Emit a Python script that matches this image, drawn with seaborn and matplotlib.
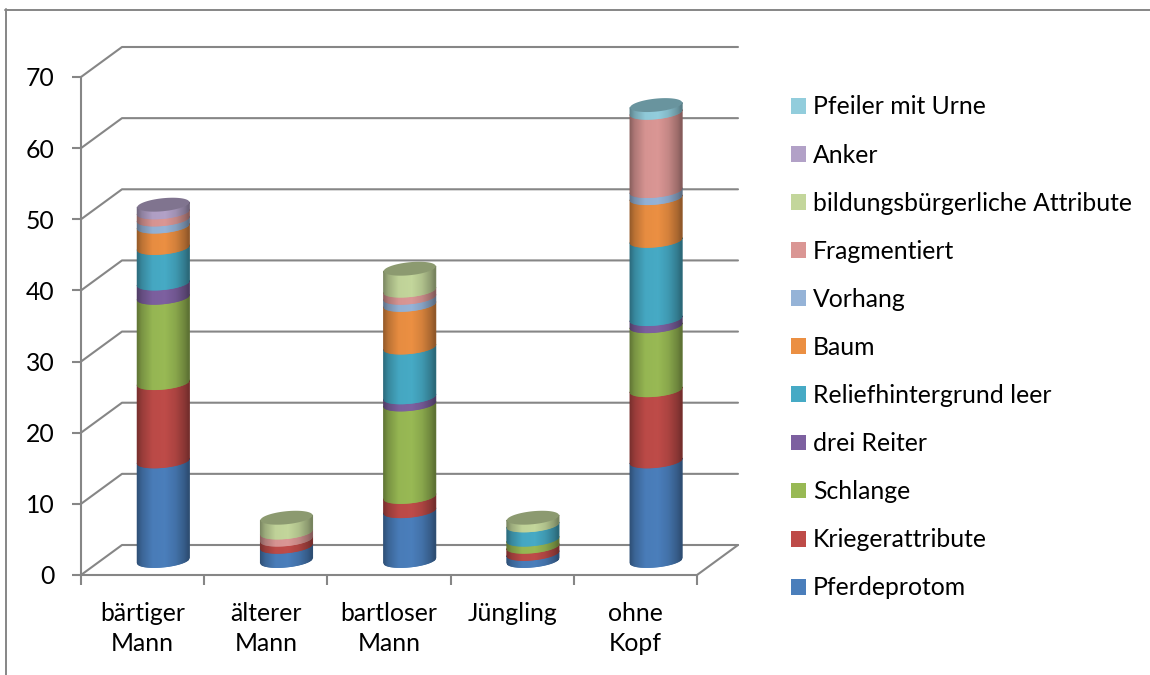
import numpy as np
import matplotlib
matplotlib.use("Agg")
import matplotlib.pyplot as plt
from matplotlib.collections import PolyCollection
from matplotlib.colors import to_rgb
from matplotlib.lines import Line2D
from matplotlib.patches import Patch, Polygon
import seaborn as sns

# Grave relief motifs per figure type
categories = ["bärtiger\nMann", "älterer\nMann", "bartloser\nMann", "Jüngling", "ohne\nKopf"]
pferdeprotom = [14, 2, 7, 1, 14]
kriegerattribute = [11, 1, 2, 1, 10]
schlange = [12, 0, 13, 1, 9]
drei_reiter = [2, 0, 1, 0, 1]
reliefhintergrund = [5, 0, 7, 2, 11]
baum = [3, 0, 6, 0, 6]
vorhang = [1, 0, 1, 0, 1]
fragmentiert = [1, 1, 1, 0, 11]
bildung = [0, 2, 3, 1, 0]
anker = [1, 0, 0, 0, 0]
pfeiler = [0, 0, 0, 0, 1]

series_names = ["Pferdeprotom", "Kriegerattribute", "Schlange", "drei Reiter",
                "Reliefhintergrund leer", "Baum", "Vorhang", "Fragmentiert",
                "bildungsbürgerliche Attribute", "Anker", "Pfeiler mit Urne"]
series_values = [pferdeprotom, kriegerattribute, schlange, drei_reiter,
                 reliefhintergrund, baum, vorhang, fragmentiert, bildung, anker, pfeiler]
series_colors = ["#4A7EBB", "#BE4B48", "#98B954", "#7D60A0", "#46AAC5", "#EB8F42",
                 "#95B3D7", "#DA9694", "#C3D69B", "#B2A1C7", "#92CDDC"]
y_ticks = [0, 10, 20, 30, 40, 50, 60, 70]

GRAY = "#868686"
FONT_SIZE = 17.8
W, H = 1150, 675

sns.set_theme(style="white")
plt.rcParams["font.family"] = ["Lato", "DejaVu Sans"]

fig = plt.figure(figsize=(W / 100, H / 100), dpi=100, facecolor="white")
ax = fig.add_axes([81 / W, 1 - 575 / H, 616 / W, 498 / H])

# Stacked bars give the category positions, widths and cumulative extents
bottoms = np.zeros(len(categories))
for values, color in zip(series_values, series_colors):
    sns.barplot(x=categories, y=values, bottom=bottoms, color=color,
                width=0.42, saturation=1, errorbar=None, ax=ax)
    bottoms += np.array(values)

ax.set_xlim(-0.5, 4.5)
ax.set_ylim(0, 70)
ax.set_yticks(y_ticks)

# Size of one pixel in data units
px = 5 / 616
py = 70 / 498
DEPTH_X, DEPTH_Y = 41 * px, 30 * py


def draw_frame():
    kw = dict(color=GRAY, lw=1.5, clip_on=False, zorder=1, solid_capstyle="round")
    for v in y_ticks:
        ax.plot([-0.5, -0.5 + DEPTH_X, 4.5 + DEPTH_X],
                [v, v + DEPTH_Y, v + DEPTH_Y], **kw)
    ax.plot([4.5, 4.5 + DEPTH_X], [0, DEPTH_Y], **kw)


def shade(u):
    return np.interp(u, [-1, -0.8, -0.4, 0.1, 0.5, 0.85, 1],
                     [0.62, 0.8, 0.98, 1.0, 0.9, 0.72, 0.6])


RADIUS, MINOR, TILT = 26, 6.5, 2.5
CENTER_DX, CENTER_DY = 20.7 * px, 14.6 * py


def rim(xc, v, u):
    x = xc + CENTER_DX + RADIUS * u * px
    y = v + CENTER_DY + (TILT * u - MINOR * np.sqrt(np.clip(1 - u ** 2, 0, 1))) * py
    return x, y


def draw_cylinder_segment(xc, v0, v1, rgb, z):
    edges = np.linspace(-1, 1, 53)
    verts, faces = [], []
    for a, b in zip(edges[:-1], edges[1:]):
        xa0, ya0 = rim(xc, v0, a)
        xb0, yb0 = rim(xc, v0, b)
        xa1, ya1 = rim(xc, v1, a)
        xb1, yb1 = rim(xc, v1, b)
        verts.append([(xa0, ya0), (xb0, yb0), (xb1, yb1), (xa1, ya1)])
        faces.append(np.clip(np.array(rgb) * shade((a + b) / 2), 0, 1))
    ax.add_collection(PolyCollection(verts, facecolors=faces, edgecolors=faces,
                                     linewidths=0.8, zorder=z, clip_on=False))


def draw_cap(xc, v, rgb, z):
    t = np.linspace(0, 2 * np.pi, 120)
    u = np.cos(t)
    x = xc + CENTER_DX + RADIUS * u * px
    y = v + CENTER_DY + (TILT * u + MINOR * np.sin(t)) * py
    ax.add_patch(Polygon(np.column_stack([x, y]), closed=True, zorder=z, clip_on=False,
                         facecolor=np.array(rgb) * 0.72, edgecolor="none"))


# Swap each flat bar for a shaded cylinder section of the same extent
tops = {}
for patch in list(ax.patches):
    if patch.get_height() <= 0:
        patch.set_visible(False)
        continue
    xc = patch.get_x() + patch.get_width() / 2
    v0, v1 = patch.get_y(), patch.get_y() + patch.get_height()
    rgb = to_rgb(patch.get_facecolor())
    draw_cylinder_segment(xc, v0, v1, rgb, 3 + v0 / 100)
    if v1 > tops.get(xc, (0, None))[0]:
        tops[xc] = (v1, rgb)
    patch.set_visible(False)
for xc, (v, rgb) in tops.items():
    draw_cap(xc, v, rgb, 5)

draw_frame()

for side in ("top", "right"):
    ax.spines[side].set_visible(False)
for side in ("left", "bottom"):
    ax.spines[side].set_color(GRAY)
    ax.spines[side].set_linewidth(1.5)

ax.tick_params(axis="y", length=6.5, width=1.5, color=GRAY, pad=12.5, labelsize=FONT_SIZE,
               labelcolor="black", left=True)
ax.tick_params(axis="x", length=6.5, width=1.5, color=GRAY, pad=13, labelsize=FONT_SIZE,
               labelcolor="black", bottom=False)
# Category boundary ticks sit between the bars
ax.set_xticks(np.arange(-0.5, 5), minor=True)
ax.tick_params(axis="x", which="minor", length=7, width=1.5, color=GRAY, bottom=True)
ax.set_xticks(range(len(categories)), categories)
for lab in ax.get_xticklabels():
    lab.set_linespacing(1.37)
    lab.set_verticalalignment("top")
ax.set_xlabel("")
ax.set_ylabel("")

handles = [Patch(facecolor=c, edgecolor="none") for c in series_colors][::-1]
leg = ax.legend(handles, series_names[::-1], frameon=False, fontsize=FONT_SIZE,
                loc="upper left", bbox_to_anchor=(791 / W, 1 - 95.5 / H),
                bbox_transform=fig.transFigure, borderaxespad=0, borderpad=0,
                handlelength=0.607, handleheight=0.607, handletextpad=0.28,
                labelspacing=1.015)
for text in leg.get_texts():
    text.set_color("black")

# Chart area outline
for xs, ys in (([5, W], [10, 10]), ([6, 6], [9, H])):
    fig.add_artist(Line2D([x / W for x in xs], [1 - y / H for y in ys],
                          color=GRAY, lw=1.4))

fig.savefig("out.png", dpi=100, facecolor="white")
